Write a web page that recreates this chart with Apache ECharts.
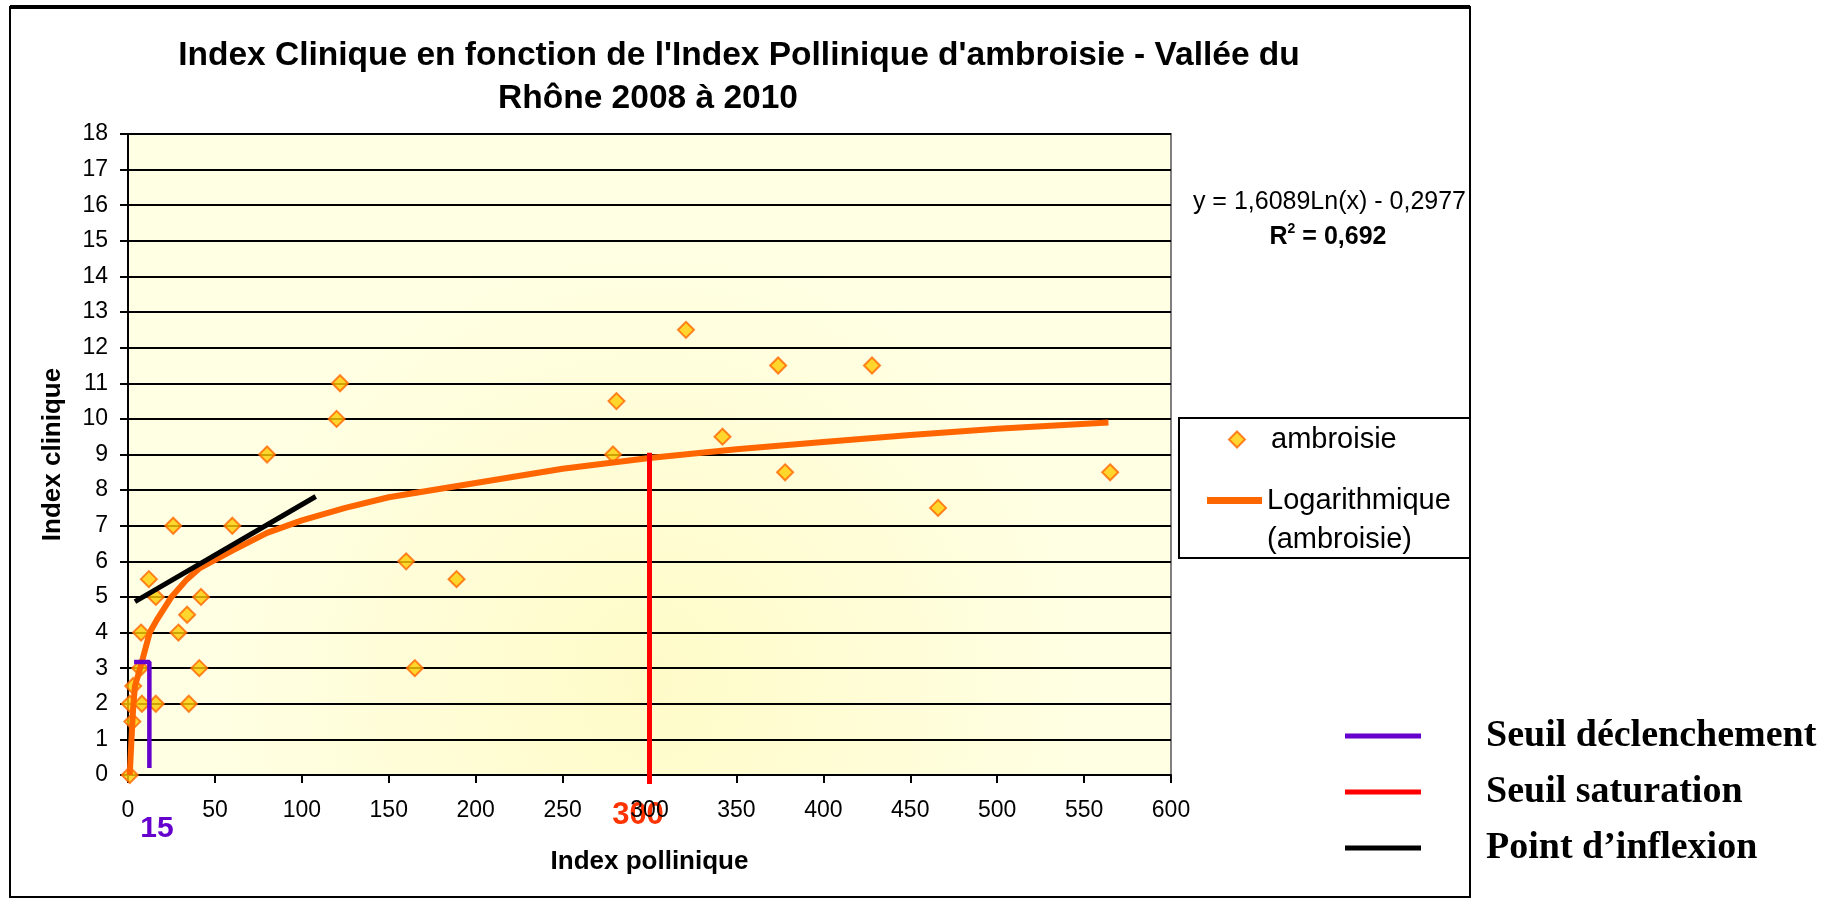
<!DOCTYPE html>
<html>
<head>
<meta charset="utf-8">
<title>Index Clinique / Index Pollinique</title>
<script src="https://cdn.jsdelivr.net/npm/echarts@6/dist/echarts.min.js"></script>
<style>
  html, body { margin: 0; padding: 0; background: #fff; }
  #chart { width: 1822px; height: 900px; }
</style>
</head>
<body>
<div id="chart"></div>
<script>
// points (index pollinique, index clinique)
const pollenIndex = [1, 1, 2.5, 3, 7, 7.5, 8, 12, 16, 16, 26, 29, 34, 35, 41, 42, 60, 80, 120, 122, 160, 165, 189, 279, 281, 321, 342, 374, 378, 428, 466, 565];
const clinicalIndex = [0, 2, 1.5, 2.5, 3, 4, 2, 5.5, 5, 2, 7, 4, 4.5, 2, 3, 5, 7, 9, 10, 11, 6, 3, 5.5, 9, 10.5, 12.5, 9.5, 11.5, 8.5, 11.5, 7.5, 8.5];

// trend line as drawn in the picture
const trendX = [1, 2, 3, 4, 7, 12.5, 16.5, 25, 34, 41, 60, 80, 100, 125, 150, 200, 250, 300, 350, 400, 450, 500, 564];
const trendY = [0, 1, 1.9, 2.5, 3, 4, 4.35, 5, 5.5, 5.8, 6.3, 6.8, 7.15, 7.5, 7.8, 8.2, 8.6, 8.9, 9.15, 9.35, 9.55, 9.72, 9.9];

// hand drawn marks
const triggerX = [3.5, 12.3, 12.3];
const triggerY = [3.17, 3.17, 0.2];
const saturationX = [300, 300];
const saturationY = [9.05, -0.25];
const inflexionX = [4, 108];
const inflexionY = [4.87, 7.82];

// axes
const xMin = 0, xMax = 600, xStep = 50;
const yMin = 0, yMax = 18, yStep = 1;

const sans = '"Liberation Sans", Arial, sans-serif';
const serif = '"Liberation Serif", "Times New Roman", serif';

const zip = (xs, ys) => xs.map((x, i) => [x, ys[i]]);

const chart = echarts.init(document.getElementById('chart'));

const option = {
    animation: false,
    textStyle: { fontFamily: sans, color: '#000' },
    grid: {
        left: 128, top: 134, width: 1043, height: 641,
        show: true,
        backgroundColor: new echarts.graphic.RadialGradient(0.5, 0.85, 0.7, [
            { offset: 0, color: '#FFFBC8' },
            { offset: 1, color: '#FFFFE4' }
        ]),
        borderColor: '#808080',
        borderWidth: 2
    },
    xAxis: {
        type: 'value', min: xMin, max: xMax, interval: xStep,
        axisLine: { onZero: false, lineStyle: { color: '#000', width: 2 } },
        axisTick: { length: 8, lineStyle: { color: '#000', width: 2 } },
        axisLabel: { color: '#000', fontSize: 23, margin: 24, fontFamily: sans },
        splitLine: { show: false },
        name: 'Index pollinique', nameLocation: 'middle', nameGap: 74,
        nameTextStyle: { fontWeight: 'bold', fontSize: 26, color: '#000', fontFamily: sans }
    },
    yAxis: {
        type: 'value', min: yMin, max: yMax, interval: yStep,
        axisLine: { onZero: false, lineStyle: { color: '#000', width: 2 } },
        axisTick: { length: 8, lineStyle: { color: '#000', width: 2 } },
        axisLabel: { color: '#000', fontSize: 23, margin: 20, fontFamily: sans },
        splitLine: { show: true, lineStyle: { color: '#000', width: 2 } },
        name: 'Index clinique', nameLocation: 'middle', nameGap: 62,
        nameTextStyle: { fontWeight: 'bold', fontSize: 26, color: '#000', fontFamily: sans }
    },
    legend: [
        {
            data: [{ name: 'ambroisie', icon: 'diamond' }],
            left: 1228, top: 420, padding: 0,
            itemWidth: 16, itemHeight: 16,
            textStyle: { fontSize: 29, lineHeight: 39, color: '#000', fontFamily: sans, padding: [0, 0, 0, 21] }
        },
        {
            data: [{ name: 'Logarithmique (ambroisie)', icon: 'rect' }],
            left: 1207, top: 442, padding: 0,
            itemWidth: 55, itemHeight: 7,
            formatter: () => ' \nLogarithmique\n(ambroisie)',
            textStyle: { fontSize: 29, lineHeight: 39, color: '#000', fontFamily: sans }
        },
        {
            data: [
                { name: 'Seuil déclenchement', icon: 'rect' },
                { name: 'Seuil saturation', icon: 'rect' },
                { name: 'Point d\u2019inflexion', icon: 'rect' }
            ],
            orient: 'vertical',
            left: 1345, top: 714, padding: 0,
            itemWidth: 76, itemHeight: 5, itemGap: 12,
            textStyle: { fontSize: 38, lineHeight: 44, fontWeight: 'bold', color: '#000', fontFamily: serif, padding: [0, 0, 0, 60] }
        }
    ],
    series: [
        {
            name: 'ambroisie', type: 'scatter',
            data: zip(pollenIndex, clinicalIndex),
            symbol: 'diamond', symbolSize: 16,
            itemStyle: { color: '#FFCC00', borderColor: '#FF6600', borderWidth: 2 },
            z: 2
        },
        {
            name: 'Logarithmique (ambroisie)', type: 'line',
            data: zip(trendX, trendY),
            symbol: 'none',
            lineStyle: { color: '#FF6600', width: 6 },
            itemStyle: { color: '#FF6600' },
            z: 3
        },
        {
            name: 'Seuil déclenchement', type: 'line',
            data: zip(triggerX, triggerY),
            symbol: 'none',
            lineStyle: { color: '#6600CC', width: 4.5, cap: 'butt' },
            itemStyle: { color: '#6600CC' },
            z: 4
        },
        {
            name: 'Seuil saturation', type: 'line',
            data: zip(saturationX, saturationY),
            symbol: 'none', clip: false,
            lineStyle: { color: '#FF0000', width: 5 },
            itemStyle: { color: '#FF0000' },
            z: 4
        },
        {
            name: 'Point d\u2019inflexion', type: 'line',
            data: zip(inflexionX, inflexionY),
            symbol: 'none',
            lineStyle: { color: '#000', width: 5 },
            itemStyle: { color: '#000' },
            z: 4
        }
    ],
    graphic: [
        // chart frame
        { type: 'rect', silent: true, z: -10, shape: { x: 10, y: 7, width: 1460, height: 890 },
          style: { fill: 'none', stroke: '#000', lineWidth: 2 } },
        { type: 'line', silent: true, z: -10, shape: { x1: 10, y1: 7, x2: 1470, y2: 7 },
          style: { stroke: '#000', lineWidth: 4 } },
        // legend frame
        { type: 'rect', silent: true, z: 1, shape: { x: 1179, y: 418, width: 291, height: 140 },
          style: { fill: '#fff', stroke: '#000', lineWidth: 2 } },
        // title
        { type: 'text', silent: true, style: { text: "Index Clinique en fonction de l'Index Pollinique d'ambroisie - Vallée du",
          x: 739, y: 56, align: 'center', verticalAlign: 'middle', font: 'bold 33.5px ' + sans, fill: '#000' } },
        { type: 'text', silent: true, style: { text: 'Rhône 2008 à 2010',
          x: 648, y: 99, align: 'center', verticalAlign: 'middle', font: 'bold 33.5px ' + sans, fill: '#000' } },
        // trend equation
        { type: 'text', silent: true, style: { text: 'y = 1,6089Ln(x) - 0,2977',
          x: 1466, y: 202, align: 'right', verticalAlign: 'middle', font: '25px ' + sans, fill: '#000' } },
        { type: 'text', silent: true, style: { text: '{b|R}{s|2}{b| = 0,692}',
          x: 1328, y: 236, align: 'center', verticalAlign: 'middle',
          rich: {
              b: { fontFamily: sans, fontSize: 25, fontWeight: 'bold', fill: '#000', lineHeight: 28, verticalAlign: 'bottom' },
              s: { fontFamily: sans, fontSize: 14, fontWeight: 'bold', fill: '#000', lineHeight: 28, verticalAlign: 'top' }
          } } },
        // threshold labels
        { type: 'text', silent: true, style: { text: '15', x: 157, y: 829, align: 'center', verticalAlign: 'middle',
          font: 'bold 30px ' + sans, fill: '#6600CC' } },
        { type: 'text', silent: true, style: { text: '300', x: 638, y: 815, align: 'center', verticalAlign: 'middle',
          font: 'bold 31px ' + sans, fill: '#FF3300' } }
    ]
};

chart.setOption(option);
window.addEventListener('resize', () => chart.resize());
</script>
</body>
</html>
